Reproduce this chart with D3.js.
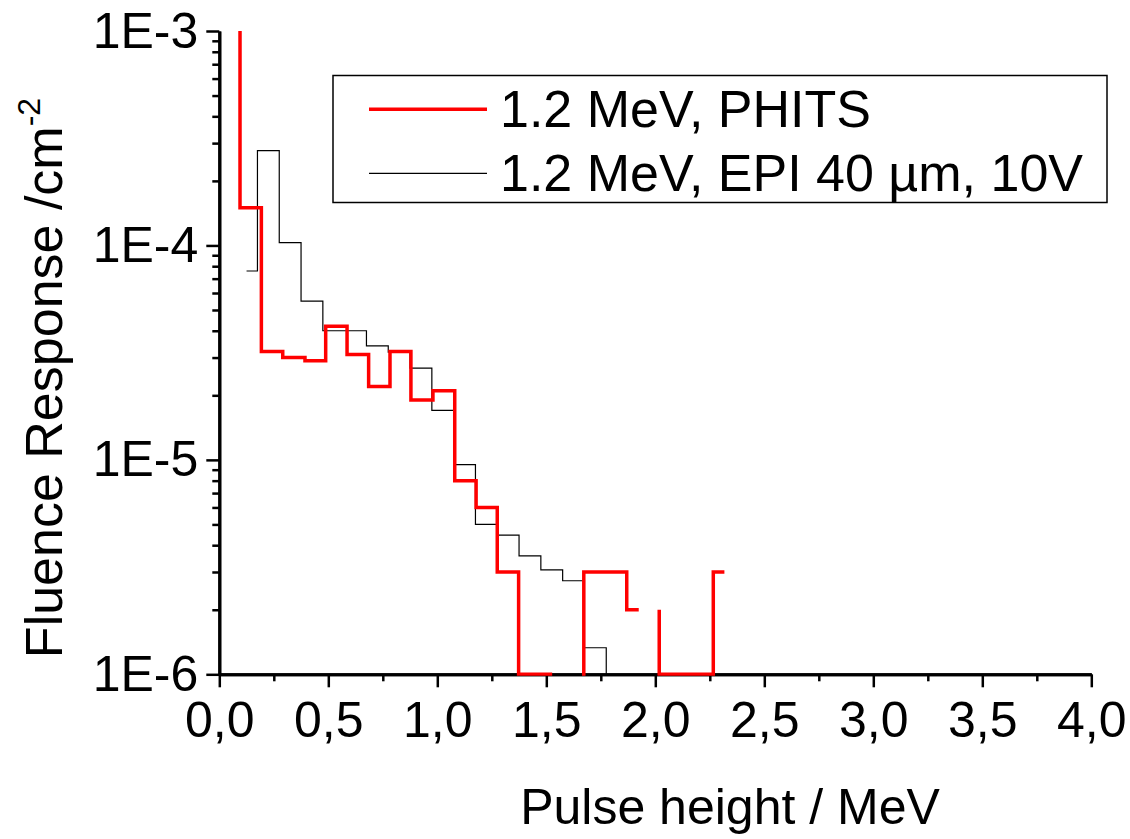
<!DOCTYPE html>
<html>
<head>
<meta charset="utf-8">
<script src="https://cdn.jsdelivr.net/npm/d3@7"></script>
<style>
  body { margin: 0; background: #fff; }
  svg text { font-family: "Liberation Sans", Arial, sans-serif; fill: #000; }
</style>
</head>
<body>
<div id="chart"></div>
<script>
// x ticks (MeV) and their labels, decimal comma as in the original
var xMajor = [0, 0.5, 1, 1.5, 2, 2.5, 3, 3.5, 4];
var xMinor = [0.25, 0.75, 1.25, 1.75, 2.25, 2.75, 3.25, 3.75];
var xLabels = ["0,0", "0,5", "1,0", "1,5", "2,0", "2,5", "3,0", "3,5", "4,0"];
var yMajor = [1e-6, 1e-5, 1e-4, 1e-3];
var yLabels = ["1E-6", "1E-5", "1E-4", "1E-3"];

// PHITS histogram: bin low edge, high edge, value  (gaps where hi != next lo)
var phitsLo  = [0.046, 0.095, 0.193, 0.291, 0.393, 0.488, 0.586, 0.685, 0.783, 0.879, 0.980, 1.080, 1.178, 1.275, 1.373,
                1.620, 1.672, 1.869,
                2.018, 2.018, 2.266];
var phitsHi  = [0.095, 0.193, 0.291, 0.393, 0.488, 0.586, 0.685, 0.783, 0.879, 0.980, 1.080, 1.178, 1.275, 1.373, 1.527,
                1.672, 1.869, 1.924,
                2.018, 2.266, 2.317];
var phitsVal = [1.5e-3, 1.5e-4, 3.2e-5, 3.0e-5, 2.9e-5, 4.2e-5, 3.1e-5, 2.2e-5, 3.2e-5, 1.9e-5, 2.1e-5, 8.0e-6, 6.0e-6, 3.0e-6, 1.0e-6,
                5e-7, 3.0e-6, 2.0e-6,
                2.0e-6, 1.0e-6, 3.0e-6];

// EPI 40 um measurement
var epiLo  = [0.125, 0.175, 0.275, 0.375, 0.475, 0.575, 0.675, 0.775, 0.875, 0.975, 1.075, 1.175, 1.275, 1.375, 1.475, 1.575, 1.675, 1.775];
var epiHi  = [0.175, 0.275, 0.375, 0.475, 0.575, 0.675, 0.775, 0.875, 0.975, 1.075, 1.175, 1.275, 1.375, 1.475, 1.575, 1.675, 1.775, 1.825];
var epiVal = [7.6e-5, 2.77e-4, 1.03e-4, 5.5e-5, 4.0e-5, 4.0e-5, 3.4e-5, 3.18e-5, 2.68e-5, 1.70e-5, 9.5e-6, 5.0e-6, 4.46e-6, 3.57e-6, 3.07e-6, 2.73e-6, 1.33e-6, 5e-7];

var legendNames = ["1.2 MeV, PHITS", "1.2 MeV, EPI 40 \u00b5m, 10V"];

var width = 1130, height = 839;
var plotLeft = 219.3, plotTop = 31, plotW = 872, plotH = 643.3;
var plotBottom = plotTop + plotH;

var svg = d3.select("#chart").append("svg")
    .attr("width", width)
    .attr("height", height);

var x = d3.scaleLinear().domain([0, 4]).range([plotLeft, plotLeft + plotW]);
var y = d3.scaleLog().domain([1e-6, 1e-3]).range([plotBottom, plotTop]);

// minor y ticks 2..9 in every decade
var yMinor = [];
[1e-6, 1e-5, 1e-4].forEach(function(d) {
    for (var k = 2; k <= 9; k++) yMinor.push(d * k);
});

// axes
var xAxisMinor = d3.axisBottom(x).tickValues(xMinor).tickSize(7).tickSizeOuter(0).tickFormat("");
var xAxis = d3.axisBottom(x).tickValues(xMajor).tickSize(13).tickSizeOuter(0).tickPadding(14)
    .tickFormat(function(d, i) { return xLabels[i]; });
var yAxisMinor = d3.axisLeft(y).tickValues(yMinor).tickSize(7).tickSizeOuter(0).tickFormat("");
var yAxis = d3.axisLeft(y).tickValues(yMajor).tickSize(13).tickSizeOuter(0).tickPadding(8)
    .tickFormat(function(d, i) { return yLabels[i]; });

function styleAxis(g) {
    g.selectAll("path.domain").attr("stroke", "#000").attr("stroke-width", 3);
    g.selectAll(".tick line").attr("stroke", "#000").attr("stroke-width", 2.5);
    g.selectAll(".tick text").attr("font-size", 50).attr("font-family", "Liberation Sans, Arial, sans-serif").attr("fill", "#000");
}

svg.append("g").attr("transform", "translate(0," + plotBottom + ")").call(xAxisMinor).call(styleAxis);
svg.append("g").attr("transform", "translate(0," + plotBottom + ")").call(xAxis).call(styleAxis);
svg.append("g").attr("transform", "translate(" + plotLeft + ",0)").call(yAxisMinor).call(styleAxis);
svg.append("g").attr("transform", "translate(" + plotLeft + ",0)").call(yAxis).call(styleAxis);

// clip so off-scale bins just run to the axes
svg.append("clipPath").attr("id", "plotclip")
  .append("rect")
    .attr("x", plotLeft)
    .attr("y", plotTop)
    .attr("width", plotW)
    .attr("height", plotH + 1.5);

// turn bins into a broken step line
function stepPoints(lo, hi, val) {
    var pts = [];
    for (var i = 0; i < lo.length; i++) {
        if (i > 0 && lo[i] !== hi[i - 1]) pts.push(null);
        pts.push([lo[i], val[i]]);
        pts.push([hi[i], val[i]]);
    }
    return pts;
}

var line = d3.line()
    .defined(function(d) { return d !== null; })
    .x(function(d) { return x(d[0]); })
    .y(function(d) { return y(d[1]); });

var plot = svg.append("g").attr("clip-path", "url(#plotclip)");

plot.append("path")
    .attr("d", line(stepPoints(epiLo, epiHi, epiVal)))
    .attr("fill", "none")
    .attr("stroke", "#000")
    .attr("stroke-width", 1.2);

plot.append("path")
    .attr("d", line(stepPoints(phitsLo, phitsHi, phitsVal)))
    .attr("fill", "none")
    .attr("stroke", "#ff0000")
    .attr("stroke-width", 3.5);

// legend
var legend = svg.append("g");
legend.append("rect")
    .attr("x", 333)
    .attr("y", 75.5)
    .attr("width", 774)
    .attr("height", 127)
    .attr("fill", "#fff")
    .attr("stroke", "#000")
    .attr("stroke-width", 1.5);

var legColors = ["#ff0000", "#000"];
var legWidths = [3.5, 1.2];
legendNames.forEach(function(name, i) {
    var ly = 109.3 + i * 64;
    legend.append("line")
        .attr("x1", 369).attr("x2", 487)
        .attr("y1", ly).attr("y2", ly)
        .attr("stroke", legColors[i])
        .attr("stroke-width", legWidths[i]);
    legend.append("text")
        .attr("x", 500)
        .attr("y", ly + 18)
        .attr("font-size", 52)
        .text(name);
});

// axis titles
svg.append("text")
    .attr("x", 730)
    .attr("y", 824)
    .attr("text-anchor", "middle")
    .attr("font-size", 50)
    .text("Pulse height / MeV");

var yTitle = svg.append("text")
    .attr("transform", "translate(62,378) rotate(-90)")
    .attr("text-anchor", "middle")
    .attr("font-size", 52);
yTitle.append("tspan").text("Fluence Response /cm");
yTitle.append("tspan").attr("font-size", 32).attr("dy", -22).text("-2");
</script>
</body>
</html>
